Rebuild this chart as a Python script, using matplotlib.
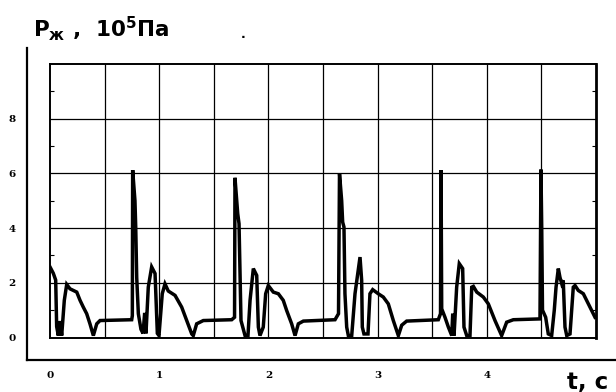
import matplotlib
matplotlib.use("Agg")
import matplotlib.pyplot as plt
import numpy as np

# ---- data (time in s, pressure in 10^5 Pa) ----
t_s = [0.000, 0.030, 0.052, 0.061, 0.076, 0.092, 0.107, 0.131, 0.153, 0.183,
       0.245, 0.275, 0.305, 0.336, 0.366, 0.397, 0.428, 0.458, 0.748, 0.754,
       0.757, 0.778, 0.785, 0.794, 0.809, 0.833, 0.852, 0.867, 0.879, 0.900,
       0.931, 0.962, 0.983, 0.998, 1.028, 1.053, 1.083, 1.145, 1.206, 1.252,
       1.298, 1.312, 1.343, 1.404, 1.664, 1.690, 1.694, 1.719, 1.731, 1.740,
       1.749, 1.786, 1.813, 1.832, 1.862, 1.893, 1.908, 1.923, 1.953, 1.975,
       1.999, 2.045, 2.091, 2.136, 2.167, 2.213, 2.244, 2.274, 2.320, 2.610,
       2.642, 2.651, 2.671, 2.680, 2.692, 2.701, 2.717, 2.732, 2.763, 2.793,
       2.839, 2.854, 2.860, 2.875, 2.912, 2.930, 2.955, 3.006, 3.052, 3.098,
       3.144, 3.190, 3.221, 3.266, 3.556, 3.576, 3.581, 3.587, 3.617, 3.648,
       3.679, 3.688, 3.700, 3.724, 3.748, 3.779, 3.791, 3.816, 3.846, 3.862,
       3.877, 3.908, 3.968, 4.014, 4.075, 4.136, 4.182, 4.243, 4.487, 4.496,
       4.503, 4.510, 4.539, 4.563, 4.594, 4.618, 4.634, 4.655, 4.670, 4.686,
       4.700, 4.716, 4.732, 4.762, 4.792, 4.808, 4.838, 4.884, 4.930, 4.960,
       4.991]
p_liq = [2.58, 2.35, 2.10, 0.40, 0.07, 0.60, 0.07, 1.36, 1.94, 1.78,
         1.66, 1.36, 1.11, 0.87, 0.50, 0.07, 0.50, 0.62, 0.65, 0.80,
         6.12, 5.00, 4.04, 2.20, 0.87, 0.30, 0.15, 0.90, 0.15, 1.84,
         2.58, 2.34, 0.15, 0.07, 1.60, 1.96, 1.70, 1.54, 1.11, 0.62,
         0.13, 0.07, 0.50, 0.62, 0.65, 0.74, 5.84, 4.53, 4.16, 2.45,
         0.62, 0.07, 0.07, 1.36, 2.52, 2.27, 0.38, 0.07, 0.38, 1.60,
         1.90, 1.66, 1.60, 1.36, 0.99, 0.50, 0.07, 0.50, 0.60, 0.65,
         0.87, 6.00, 5.00, 4.22, 4.04, 1.60, 0.38, 0.07, 0.07, 1.60,
         2.94, 2.09, 0.38, 0.13, 0.13, 1.60, 1.75, 1.60, 1.48, 1.23,
         0.62, 0.07, 0.45, 0.60, 0.65, 0.87, 6.12, 1.05, 0.74, 0.38,
         0.07, 0.87, 0.07, 1.84, 2.70, 2.52, 0.38, 0.07, 0.07, 1.84,
         1.87, 1.66, 1.48, 1.23, 0.62, 0.07, 0.56, 0.65, 0.68, 6.14,
         4.00, 1.00, 0.74, 0.13, 0.07, 1.00, 1.84, 2.52, 2.20, 1.97,
         2.09, 0.38, 0.07, 0.13, 1.84, 1.90, 1.72, 1.60, 1.23, 0.99,
         0.74]

x_ticks = [0, 1, 2, 3, 4]
x_labels = ["0", "1", "2", "3", "4"]
y_ticks = [0, 2, 4, 6, 8]
y_labels = ["0", "2", "4", "6", "8"]
x_grid = np.arange(0.5, 5.0, 0.5)
y_grid = [2, 4, 6, 8]

plt.rcParams["mathtext.fontset"] = "dejavusans"

W, H = 616, 392
fig = plt.figure(figsize=(W / 100, H / 100), dpi=100)

def rect(x0, y0, x1, y1):
    return [x0 / W, 1 - y1 / H, (x1 - x0) / W, (y1 - y0) / H]

# outer L-shaped axis
ax_o = fig.add_axes(rect(26.7, 48, 616, 360))
ax_o.set_xticks([]); ax_o.set_yticks([])
for s in ["top", "right"]:
    ax_o.spines[s].set_visible(False)
for s in ["left", "bottom"]:
    ax_o.spines[s].set_linewidth(1.6)
ax_o.patch.set_alpha(0)

# inner plot box
ax = fig.add_axes(rect(50, 64, 596, 337.5))
ax.set_xlim(0, 5)
ax.set_ylim(0, 10)
for xg in x_grid:
    ax.axvline(xg, color="black", lw=0.9, zorder=1)
for yg in y_grid:
    ax.axhline(yg, color="black", lw=0.9, zorder=1)
ax.plot(t_s, p_liq, color="black", lw=2.5, solid_joinstyle="miter", zorder=3)
for s in ax.spines.values():
    s.set_linewidth(1.4)
ax.spines["right"].set_linewidth(2.0)

tick_font = dict(family="DejaVu Serif", weight="bold", size=7.5)
ax.set_xticks(x_ticks)
ax.set_xticklabels(x_labels, **tick_font)
ax.set_yticks(y_ticks)
ax.set_yticklabels(y_labels, **tick_font)
ax.tick_params(axis="x", length=0, pad=24)
ax.tick_params(axis="y", length=0, pad=25)
ax.set_yticks(np.arange(1, 10, 2), minor=True)
ax.tick_params(axis="y", which="minor", direction="in", length=3, width=0.8,
               left=True, right=True)

fig.text(33 / W, 1 - 37 / H, r"$\mathbf{P_{ж}}$ ,  $\mathbf{10^{5}}$Па",
         family="DejaVu Sans", weight="bold", fontsize=15.5,
         ha="left", va="baseline")
fig.text(243 / W, 1 - 38 / H, ".", family="DejaVu Sans", weight="bold",
         fontsize=9, ha="center", va="baseline")
fig.text(588 / W, 1 - 382 / H, "t, c", family="DejaVu Sans",
         weight="bold", fontsize=16.5, ha="center", va="center")

fig.savefig("out.png", dpi=100)
